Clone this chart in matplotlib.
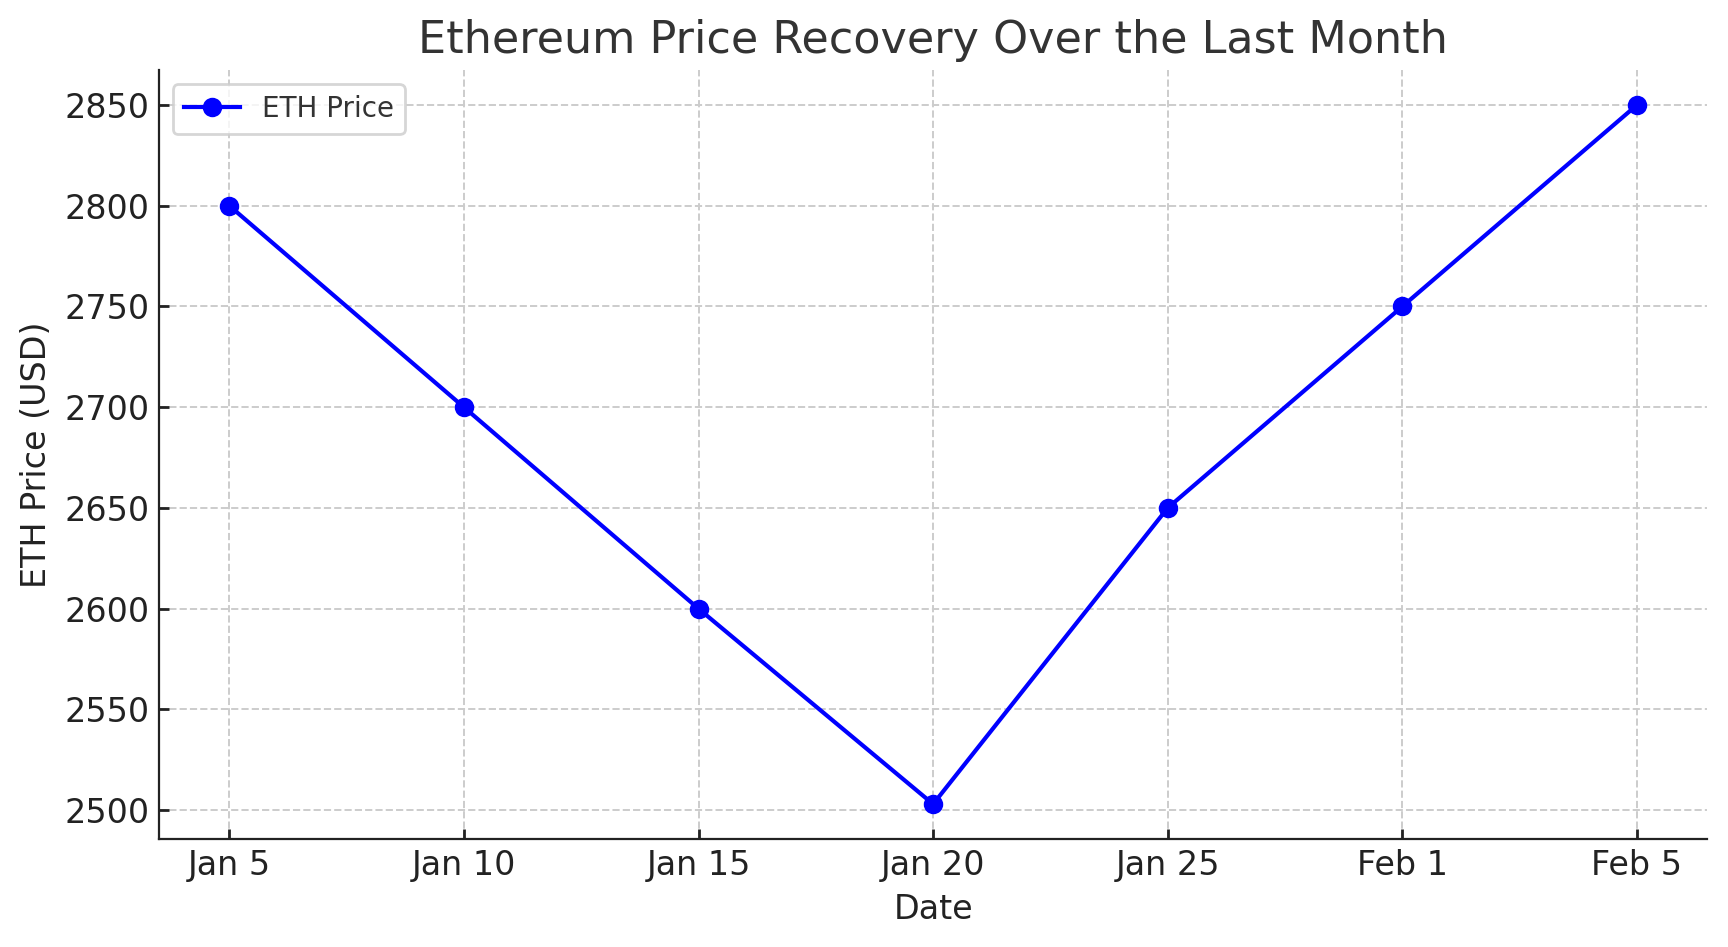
import matplotlib
matplotlib.use("Agg")
import matplotlib.pyplot as plt

# data
dates = ["Jan 5", "Jan 10", "Jan 15", "Jan 20", "Jan 25", "Feb 1", "Feb 5"]
eth_price = [2800, 2700, 2600, 2503, 2650, 2750, 2850]

fig, ax = plt.subplots(figsize=(8.64, 4.735), dpi=200)
fig.subplots_adjust(left=0.092, right=0.988, top=0.926, bottom=0.114)

ax.plot(dates, eth_price, marker="o", color="blue", linewidth=1.5,
        markersize=6, label="ETH Price")

ax.set_title("Ethereum Price Recovery Over the Last Month", fontsize=16, color="#333333")
ax.set_xlabel("Date", fontsize=12, color="#222222")
ax.set_ylabel("ETH Price (USD)", fontsize=12, color="#222222")
ax.tick_params(labelsize=12, colors="#222222", direction="in", length=3.5, width=1)
ax.grid(True, linestyle="--", color="#cccccc", linewidth=0.7)
ax.legend(loc="upper left", fontsize=10, labelcolor="#333333", edgecolor="#cccccc")

for s in ["top", "right"]:
    ax.spines[s].set_visible(False)
for s in ["left", "bottom"]:
    ax.spines[s].set_color("#222222")

plt.savefig("out.png")
